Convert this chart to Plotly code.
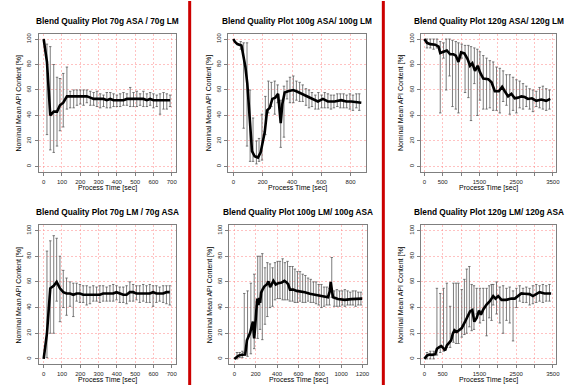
import numpy as np
import plotly.graph_objects as go

titles = ["Blend Quality Plot 70g ASA / 70g LM", "Blend Quality Plot 100g ASA/ 100g LM",
          "Blend Quality Plot 120g ASA/ 120g LM", "Blend Quality Plot 70g LM / 70g ASA",
          "Blend Quality Plot 100g LM/ 100g ASA", "Blend Quality Plot 120g LM/ 120g ASA"]
x_title = "Process Time [sec]"
y_title = "Nominal Mean API Content [%]"
y_ticks = [0, 20, 40, 60, 80, 100]

# ---- Panel 1: 70g ASA / 70g LM
p1_line_x = [0,18,36,55,73,89,107,127,145,164,182,200,218,236,255,273,291,309,327,345,364,382,400,418,436,455,473,491,509,527,545,564,582,600,618,636,655,673,691]
p1_line_y = [100,82,40,43,43,48,50,55,55,55,55,55,55,55,54,53,53,53,53,52,53,52,52,52,52,53,53,53,53,53,53,52,53,52,52,52,52,52,52]
p1_bar_x = [18,36,55,73,89,107,127,145,164,182,200,218,236,255,273,291,309,327,345,364,382,400,418,436,455,473,491,509,527,545,564,582,600,618,636,655,673,691]
p1_bar_lo = [25,13,11,16,28,31,45,46,46,48,49,48,50,48,48,47,46,47,46,46,47,47,47,48,48,47,47,47,48,47,47,48,46,47,41,45,45,47]
p1_bar_hi = [96,94,80,70,69,73,78,59,60,60,60,60,60,59,58,59,57,56,58,58,57,56,57,58,57,62,58,59,57,59,57,58,57,56,57,58,57,56]
p1_xticks = [0,100,200,300,400,500,600,700]
p1_xlabels = ["0","100","200","300","400","500","600","700"]

# ---- Panel 2: 100g ASA / 100g LM
p2_line_x = [0,9,27,55,66,82,95,107,118,127,145,168,186,202,214,230,248,266,286,305,318,323,334,350,373,407,430,464,509,543,577,611,645,691,736,770,805,873]
p2_line_y = [100,98,96,95,88,78,65,46,25,12,8,7,11,20,27,44,46,53,54,57,42,34,49,58,59,60,59,57,55,53,51,53,51,51,52,51,51,50]
p2_bar_x = [50,70,93,114,134,157,175,195,218,239,259,282,302,323,345,366,386,409,430,452,473,495,516,536,559,580,602,623,645,666,686,709,730,752,773,795,816,839,859]
p2_bar_lo = [92,30,16,4,4,2,4,5,25,42,47,41,50,15,23,53,50,50,52,51,51,48,46,47,45,45,46,46,46,45,46,47,46,46,46,45,44,46,44]
p2_bar_hi = [98,97,97,60,38,20,22,41,55,67,66,67,64,52,63,67,70,71,67,66,64,61,60,58,56,58,56,58,57,56,56,57,57,57,56,57,56,57,57]
p2_xticks = [0,200,400,600,800]
p2_xlabels = ["0","200","400","600","800"]

# ---- Panel 3: 120g ASA / 120g LM
p3_line_x = [0,72,162,297,388,433,523,613,703,793,857,929,1001,1091,1181,1244,1307,1380,1452,1515,1605,1740,1830,1920,2029,2119,2191,2281,2371,2462,2552,2642,2732,2822,2930,3048,3183,3318,3430]
p3_line_y = [100,97,96,95.5,94,89,90,91,88,88,87,82,89.5,88.7,84,79,81,75,79,74,69,68.5,66,59,59,62.5,59,55,57,53.5,54,55,54.5,53,53.5,51.5,52.5,51.5,53]
p3_bar_x = [72,162,252,343,433,523,595,685,766,857,929,1019,1109,1199,1271,1362,1443,1515,1605,1695,1785,1875,1966,2056,2146,2236,2326,2416,2507,2597,2687,2777,2867,2957,3048,3138,3228,3318,3408]
p3_bar_lo = [93,93,92,93,42,85,60,71,47,45,42,85,58,54,36,65,40,52,45,45,46,44,44,42,51,48,41,44,42,46,45,47,45,43,47,46,45,44,45]
p3_bar_hi = [100,100,100,100,98,97,100,100,99,98,97,96,95,95,94,93,92,90,87,85,83,82,78,77,75,72,72,70,68,67,65,63,61,60,59,62,63,61,60]
p3_xticks = [0,500,1000,1500,2000,2500,3000,3500]
p3_xlabels = ["0","500","","1500","","2500","","3500"]

# ---- Panel 4: 70g LM / 70g ASA
p4_line_x = [0,18,36,55,71,89,107,125,144,162,180,198,216,235,253,271,289,307,325,344,362,380,398,416,435,453,471,489,507,525,544,562,580,598,616,634,653,671,689]
p4_line_y = [0,20,55,57,60,55,52,51,51,50,51,51,50,50,50,50,50,50,51,51,51,51,52,51,50,50,52,52,51,51,51,51,51,52,51,51,51,52,52]
p4_bar_x = [18,36,55,71,89,107,125,144,162,180,198,216,235,253,271,289,307,325,344,362,380,398,416,435,453,471,489,507,525,544,562,580,598,616,634,653,671,689]
p4_bar_lo = [1,20,20,45,29,40,34,41,33,45,44,44,42,43,45,45,44,45,45,45,45,46,44,44,43,45,45,46,44,45,44,44,41,44,45,44,43,42]
p4_bar_hi = [84,92,96,94,80,69,63,60,59,59,58,57,57,56,57,56,57,57,56,57,58,57,56,56,57,60,58,57,57,58,57,58,57,57,56,57,57,57]
p4_xticks = p1_xticks
p4_xlabels = p1_xlabels

# ---- Panel 5: 100g LM / 100g ASA
p5_line_x = [0,25,40,71,102,118,133,149,164,174,183,186,195,205,214,226,233,242,251,264,282,304,319,335,350,366,388,412,443,468,490,505,521,552,583,629,660,707,753,800,846,877,893,902,915,924,970,1033,1095,1157,1197]
p5_line_y = [0,2,2.6,3.2,3.4,14.5,18,20.5,26,29,18,16,25,39.5,47,42,47.6,43.7,51.6,54,56.6,58,60.5,56,58,60.8,58,59,59.5,60.8,59.5,58,54,54,53,52.6,52,50.8,50,49.5,48.7,48,52.6,60,52.6,48,46.6,46,46.6,47,47]
p5_bar_x = [25,50,75,93,124,155,186,219,241,262,287,309,334,358,381,405,427,452,474,498,520,545,567,591,615,640,665,690,715,740,765,790,815,840,865,890,912,935,960,985,1010,1035,1060,1085,1110,1135,1160,1185]
p5_bar_lo = [0,1,1,5,2,4,8,16,23,15,27,33,40,41,46,47,47,46,46,46,45,45,44,44,45,44,44,45,44,44,43,42,40,41,42,42,48,41,41,41,42,41,42,42,42,41,42,42]
p5_bar_hi = [5,5,6,51,53,59,66,80,80,82,71,75,74,71,75,76,76,78,75,76,72,72,70,68,68,66,65,63,62,60,60,58,58,56,56,55,79,53,54,53,53,54,53,52,53,53,52,52]
p5_xticks = [0,200,400,600,800,1000,1200]
p5_xlabels = ["0","200","400","600","800","1000","1200"]

# ---- Panel 6: 120g LM / 120g ASA
p6_line_x = [0,72,135,207,298,343,406,460,523,568,613,658,730,775,820,883,947,1019,1109,1181,1244,1307,1361,1425,1488,1542,1605,1695,1785,1875,1938,2011,2101,2236,2371,2462,2570,2642,2732,2867,2957,3048,3138,3273,3453]
p6_line_y = [0,2.6,3.4,3.2,3.7,7.9,9.2,10,8.2,6.6,10.5,12,14.5,19.7,22.4,21,22.6,24,29,33,37,38,29,32,37.6,34.5,38.5,42.4,45,49,47,49,46,46,47,47,49,51,50.8,50.5,49,50.3,52,51,51]
p6_bar_x = [72,162,253,343,433,523,613,703,793,866,929,1019,1091,1154,1226,1289,1352,1425,1515,1605,1695,1767,1830,1875,1966,2056,2146,2236,2326,2416,2507,2597,2687,2777,2867,2957,3048,3138,3228,3318,3408]
p6_bar_lo = [0,0,0,3,5,6,9,9,13,12,12,17,19,20,25,22,23,35,28,30,18,32,30,42,35,28,20,30,28,14,40,45,44,44,42,43,44,45,44,45,45]
p6_bar_hi = [5,6,6,55,51,55,59,41,59,59,59,54,62,70,72,58,57,55,55,55,55,57,58,58,60,56,57,55,56,53,55,57,55,56,55,57,58,57,58,57,58]
p6_xticks = p3_xticks
p6_xlabels = p3_xlabels

panels = [
    (p1_line_x, p1_line_y, p1_bar_x, p1_bar_lo, p1_bar_hi, p1_xticks, p1_xlabels, [-27, 722]),
    (p2_line_x, p2_line_y, p2_bar_x, p2_bar_lo, p2_bar_hi, p2_xticks, p2_xlabels, [-34, 908]),
    (p3_line_x, p3_line_y, p3_bar_x, p3_bar_lo, p3_bar_hi, p3_xticks, p3_xlabels, [-89, 3589]),
    (p4_line_x, p4_line_y, p4_bar_x, p4_bar_lo, p4_bar_hi, p4_xticks, p4_xlabels, [-27, 722]),
    (p5_line_x, p5_line_y, p5_bar_x, p5_bar_lo, p5_bar_hi, p5_xticks, p5_xlabels, [-46, 1246]),
    (p6_line_x, p6_line_y, p6_bar_x, p6_bar_lo, p6_bar_hi, p6_xticks, p6_xlabels, [-89, 3589]),
]

W, H = 578, 385
# plot boxes in pixels (left, right, top, bottom)
boxes = [(39, 177, 33, 171), (230, 369, 33, 171), (424, 560, 33, 171),
         (39, 177, 225, 364), (231, 370, 225, 364), (424, 560, 225, 364)]

FONT = "Liberation Sans, Arial, sans-serif"
fig = go.Figure()
layout = dict(width=W, height=H, margin=dict(l=0, r=0, t=0, b=0),
              paper_bgcolor="white", plot_bgcolor="white", showlegend=False)
annotations = []
grid_col = "rgba(255,120,120,0.45)"

for i, (lx, ly, bx, blo, bhi, xt, xl, xr) in enumerate(panels):
    n = i + 1
    xa = "x" if n == 1 else f"x{n}"
    ya = "y" if n == 1 else f"y{n}"
    lo = np.array(blo, dtype=float)
    hi = np.array(bhi, dtype=float)
    fig.add_trace(go.Scatter(x=bx, y=(lo + hi) / 2, mode="markers",
                             marker=dict(size=1, opacity=0),
                             error_y=dict(type="data", array=(hi - lo) / 2, symmetric=True,
                                          color="#5a5a5a", thickness=0.8, width=1.2),
                             xaxis=xa, yaxis=ya, hoverinfo="skip"))
    fig.add_trace(go.Scatter(x=lx, y=ly, mode="lines",
                             line=dict(color="black", width=2.6),
                             xaxis=xa, yaxis=ya))
    L, R, T, B = boxes[i]
    axis_common = dict(showline=True, mirror=True, linecolor="#7f7f7f", linewidth=1,
                       ticks="outside", ticklen=3, tickcolor="#7f7f7f", tickwidth=1,
                       showgrid=True, gridcolor=grid_col, griddash="2px,2px", gridwidth=0.8,
                       zeroline=False, tickfont=dict(family=FONT, size=6, color="#222222"))
    layout["xaxis" if n == 1 else f"xaxis{n}"] = dict(
        domain=[L / W, R / W], anchor=ya, range=xr, tickvals=xt, ticktext=xl,
        ticklabelstandoff=1, **axis_common)
    layout["yaxis" if n == 1 else f"yaxis{n}"] = dict(
        domain=[1 - B / H, 1 - T / H], anchor=xa, range=[-4, 104], tickvals=y_ticks,
        ticktext=[str(v) for v in y_ticks], tickangle=-90, ticklabelstandoff=1, **axis_common)
    cx = (L + R) / 2 / W
    annotations.append(dict(text="<b>%s</b>" % titles[i], x=cx, y=1 - (T - 13) / H,
                            xref="paper", yref="paper",
                            showarrow=False, font=dict(family=FONT, size=8.3, color="black"),
                            xanchor="center", yanchor="middle"))
    annotations.append(dict(text=x_title, x=cx, y=1 - (B + 16) / H, xref="paper", yref="paper",
                            showarrow=False, font=dict(family=FONT, size=7, color="black"),
                            xanchor="center", yanchor="middle"))
    annotations.append(dict(text=y_title, x=(L - 20) / W, y=1 - (T + B) / 2 / H, xref="paper",
                            yref="paper", textangle=-90, showarrow=False,
                            font=dict(family=FONT, size=7, color="black"),
                            xanchor="center", yanchor="middle"))

layout["annotations"] = annotations
layout["shapes"] = [
    dict(type="line", xref="paper", yref="paper", x0=191 / W, x1=191 / W, y0=0, y1=1,
         line=dict(color="#cc0000", width=3)),
    dict(type="line", xref="paper", yref="paper", x0=386 / W, x1=386 / W, y0=0, y1=1,
         line=dict(color="#cc0000", width=3)),
]
fig.update_layout(**layout)
fig.write_html("out.html", config={"displayModeBar": False},
               post_script="document.body.style.margin='0';document.body.style.overflow='hidden';")
